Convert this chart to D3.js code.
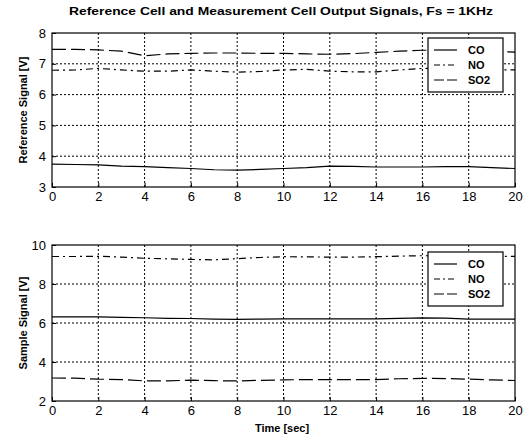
<!DOCTYPE html>
<html>
<head>
  <meta charset="utf-8">
  <script src="https://d3js.org/d3.v7.min.js"></script>
  <style>
    body { margin: 0; background: #fff; }
    svg text { font-family: "Liberation Sans", Arial, sans-serif; fill: #000; }
  </style>
</head>
<body>
<div id="chart"></div>
<script>
// time axis, one sample per second
const time = d3.range(0, 21);

// reference cell output (V)
const refCO  = [3.74,3.73,3.72,3.68,3.66,3.63,3.60,3.56,3.55,3.57,3.60,3.63,3.68,3.67,3.65,3.65,3.65,3.66,3.66,3.63,3.60];
const refNO  = [6.79,6.80,6.85,6.80,6.76,6.76,6.80,6.76,6.73,6.75,6.80,6.82,6.76,6.74,6.74,6.80,6.85,6.84,6.82,6.80,6.80];
const refSO2 = [7.47,7.47,7.45,7.41,7.26,7.32,7.34,7.35,7.35,7.34,7.34,7.32,7.31,7.33,7.37,7.41,7.44,7.44,7.42,7.40,7.38];

// sample cell output (V)
const smpCO  = [6.31,6.31,6.31,6.29,6.27,6.24,6.23,6.20,6.19,6.20,6.21,6.21,6.21,6.21,6.21,6.24,6.26,6.25,6.20,6.20,6.20];
const smpNO  = [9.41,9.41,9.42,9.38,9.32,9.29,9.26,9.24,9.30,9.36,9.40,9.39,9.38,9.38,9.40,9.43,9.45,9.44,9.42,9.42,9.42];
const smpSO2 = [3.18,3.17,3.12,3.10,3.03,3.03,3.07,3.04,3.03,3.06,3.08,3.10,3.10,3.10,3.10,3.14,3.16,3.15,3.12,3.08,3.05];

const seriesNames = ["CO", "NO", "SO2"];
const xTicks = [0,2,4,6,8,10,12,14,16,18,20];
const refTicks = [3,4,5,6,7,8];
const smpTicks = [2,4,6,8,10];

const dashes = {CO: null, NO: "7,4,2,4", SO2: "14,5"};

const W = 531, H = 439;
const svg = d3.select("#chart").append("svg")
  .attr("width", W).attr("height", H);

svg.append("text")
  .attr("x", 281).attr("y", 15)
  .attr("text-anchor", "middle")
  .style("font-size", "11px").style("font-weight", "bold")
  .attr("textLength", 424).attr("lengthAdjust", "spacingAndGlyphs")
  .text("Reference Cell and  Measurement Cell Output Signals, Fs = 1KHz");

function panel(top, bottom, yDomain, yTicks, data, yLabel, legendTop) {
  const x = d3.scaleLinear().domain([0, 20]).range([52, 515]);
  const y = d3.scaleLinear().domain(yDomain).range([bottom, top]);
  const g = svg.append("g");

  // grid
  g.selectAll(".gx").data(xTicks.slice(1, -1)).join("line")
    .attr("x1", d => x(d)).attr("x2", d => x(d))
    .attr("y1", top).attr("y2", bottom)
    .attr("stroke", "#000").attr("stroke-width", 1).attr("stroke-dasharray", "2,2");
  g.selectAll(".gy").data(yTicks.slice(1, -1)).join("line")
    .attr("x1", x(0)).attr("x2", x(20))
    .attr("y1", d => y(d)).attr("y2", d => y(d))
    .attr("stroke", "#000").attr("stroke-width", 1).attr("stroke-dasharray", "2,2");

  // lines
  const line = d3.line().x((d, i) => x(time[i])).y(d => y(d));
  seriesNames.forEach(name => {
    g.append("path").datum(data[name])
      .attr("d", line)
      .attr("fill", "none").attr("stroke", "#000").attr("stroke-width", 1.2)
      .attr("stroke-dasharray", dashes[name]);
  });

  // axes
  const xAxis = g.append("g").attr("transform", `translate(0,${bottom})`)
    .call(d3.axisBottom(x).tickValues(xTicks).tickSizeInner(-4).tickSizeOuter(0).tickPadding(5));
  const yAxis = g.append("g").attr("transform", `translate(${x(0)},0)`)
    .call(d3.axisLeft(y).tickValues(yTicks).tickFormat(d3.format("d")).tickSizeInner(-4).tickSizeOuter(0).tickPadding(6));
  [xAxis, yAxis].forEach(a => {
    a.select(".domain").remove();
    a.selectAll("line").attr("stroke", "#000");
    a.selectAll("text").style("font-size", "13px").style("font-family", "'Liberation Sans', Arial, sans-serif");
  });
  g.append("rect")
    .attr("x", x(0)).attr("y", top)
    .attr("width", x(20) - x(0)).attr("height", bottom - top)
    .attr("fill", "none").attr("stroke", "#000").attr("stroke-width", 1.2);

  g.append("text")
    .attr("transform", `translate(27,${(top + bottom) / 2}) rotate(-90)`)
    .attr("text-anchor", "middle")
    .style("font-size", "11px").style("font-weight", "bold")
    .text(yLabel);

  // legend
  const lg = g.append("g").attr("transform", `translate(428,${legendTop})`);
  lg.append("rect").attr("width", 75).attr("height", 54)
    .attr("fill", "#fff").attr("stroke", "#000").attr("stroke-width", 1.2);
  seriesNames.forEach((name, i) => {
    const ly = 12 + i * 15;
    lg.append("line").attr("x1", 6).attr("x2", 29).attr("y1", ly).attr("y2", ly)
      .attr("stroke", "#000").attr("stroke-width", 1.2)
      .attr("stroke-dasharray", name === "NO" ? "6,3,2,3" : (name === "SO2" ? "10,3" : null));
    lg.append("text").attr("x", 40).attr("y", ly + 4)
      .style("font-size", "11px").style("font-weight", "bold")
      .text(name);
  });
  return g;
}

panel(33, 187, [3, 8], refTicks, {CO: refCO, NO: refNO, SO2: refSO2}, "Reference Signal [V]", 38);
panel(245, 401, [2, 10], smpTicks, {CO: smpCO, NO: smpNO, SO2: smpSO2}, "Sample Signal [V]", 252);

svg.append("text")
  .attr("x", 282).attr("y", 432)
  .attr("text-anchor", "middle")
  .style("font-size", "11px").style("font-weight", "bold")
  .text("Time [sec]");
</script>
</body>
</html>
